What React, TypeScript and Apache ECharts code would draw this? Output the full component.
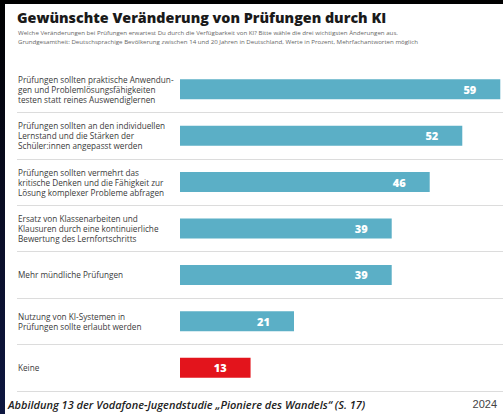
import React, { useEffect, useRef } from "react";
import * as echarts from "echarts";

const categories = [
  "Prüfungen sollten praktische Anwendun-\ngen und Problemlösungsfähigkeiten\ntesten statt reines Auswendiglernen",
  "Prüfungen sollten an den individuellen\nLernstand und die Stärken der\nSchüler:innen angepasst werden",
  "Prüfungen sollten vermehrt das\nkritische Denken und die Fähigkeit zur\nLösung komplexer Probleme abfragen",
  "Ersatz von Klassenarbeiten und\nKlausuren durch eine kontinuierliche\nBewertung des Lernfortschritts",
  "Mehr mündliche Prüfungen",
  "Nutzung von KI-Systemen in\nPrüfungen sollte erlaubt werden",
  "Keine",
];
const values = [59, 52, 46, 39, 39, 21, 13];
const highlight = [false, false, false, false, false, false, true];

const titleText = "Gewünschte Veränderung von Prüfungen durch KI";
const subtitleText =
  "Welche Veränderungen bei Prüfungen erwartest Du durch die Verfügbarkeit von KI? Bitte wähle die drei wichtigsten Änderungen aus.\nGrundgesamtheit: Deutschsprachige Bevölkerung zwischen 14 und 20 Jahren in Deutschland, Werte in Prozent, Mehrfachantworten möglich";
const footerText = "Abbildung 13 der Vodafone-Jugendstudie „Pioniere des Wandels“ (S. 17)";
const yearText = "2024";

export default function App() {
  const ref = useRef<HTMLDivElement>(null);
  useEffect(() => {
    if (!ref.current) return;
    const chart = echarts.init(ref.current, null, { renderer: "svg" });
    const top = 62;
    const height = 325;
    chart.setOption({
      animation: false,
      backgroundColor: "#ffffff",
      title: [
        {
          text: titleText,
          left: 12,
          top: 4,
          padding: 0,
          textStyle: {
            fontFamily: "Open Sans",
            fontWeight: 800,
            fontSize: 14.3,
            lineHeight: 18,
            color: "#1a1a1a",
          },
        },
        {
          text: subtitleText,
          left: 13,
          top: 24,
          padding: 0,
          textStyle: {
            fontFamily: "Open Sans",
            fontWeight: 400,
            fontSize: 6.15,
            lineHeight: 9,
            color: "#666666",
          },
        },
        {
          text: footerText,
          left: 3,
          top: 393,
          padding: 0,
          textStyle: {
            fontFamily: "Open Sans",
            fontStyle: "italic",
            fontWeight: 600,
            fontSize: 11,
            lineHeight: 14,
            color: "#222222",
          },
        },
        {
          text: yearText,
          right: 6,
          top: 393,
          padding: 0,
          textStyle: {
            fontFamily: "Liberation Sans",
            fontWeight: 400,
            fontSize: 11,
            lineHeight: 14,
            color: "#444444",
          },
        },
      ],
      grid: [
        { left: 12, right: 0, top, height, containLabel: false },
        { left: 175, right: 0, top, height, containLabel: false },
      ],
      xAxis: [
        { gridIndex: 0, type: "value", show: false, min: 0, max: 1 },
        { gridIndex: 1, type: "value", show: false, min: 0, max: 59.5 },
      ],
      yAxis: [
        {
          gridIndex: 0,
          type: "category",
          data: categories,
          inverse: true,
          axisLine: { show: false },
          axisTick: { show: false },
          axisLabel: {
            inside: true,
            margin: 1,
            align: "left",
            fontFamily: "Open Sans",
            fontSize: 8.2,
            lineHeight: 10,
            color: "#3a3a3a",
          },
          splitLine: {
            show: true,
            showMinLine: false,
            lineStyle: { color: "#dcdcdc", width: 1.2 },
          },
        },
        {
          gridIndex: 1,
          type: "category",
          data: categories,
          inverse: true,
          show: false,
        },
      ],
      series: [
        {
          type: "bar",
          xAxisIndex: 1,
          yAxisIndex: 1,
          barWidth: 20,
          data: values.map((v, i) => ({
            value: v,
            itemStyle: { color: highlight[i] ? "#e3141c" : "#5bafc6" },
          })),
          label: {
            show: true,
            position: "insideRight",
            distance: 24,
            color: "#ffffff",
            fontFamily: "Open Sans",
            fontWeight: 800,
            fontSize: 11,
          },
        },
      ],
    });
    return () => chart.dispose();
  }, []);
  return (
    <div
      style={{
        position: "fixed",
        left: 0,
        top: 0,
        width: 503,
        height: 414,
        background: "linear-gradient(180deg, #000000 0%, #0b0f2a 60%, #0d1640 100%)",
      }}
    >
      <div
        ref={ref}
        style={{ position: "absolute", left: 5, top: 4, width: 498, height: 410 }}
      />
    </div>
  );
}
